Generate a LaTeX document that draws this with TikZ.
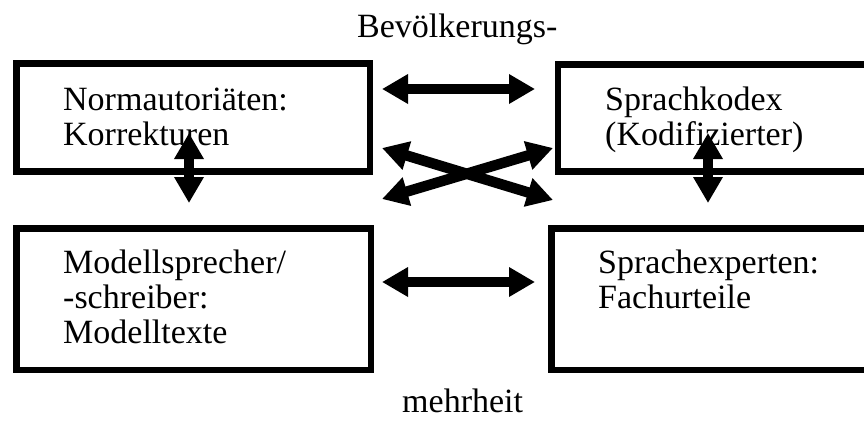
\documentclass[tikz,border=0pt]{standalone}
\usepackage{fontspec}
\setmainfont{Liberation Serif}
\usetikzlibrary{arrows.meta}
\tikzset{
  box/.style={draw=black, line width=6.5pt, fill=none},
  lbl/.style={inner sep=0pt, anchor=base west, font=\fontsize{34}{35}\selectfont},
  dbl/.style={line width=10.5pt, {Triangle[length=26pt,width=28pt]}-{Triangle[length=26pt,width=28pt]}}
}
\begin{document}
\begin{tikzpicture}[x=1pt,y=-1pt]
\useasboundingbox (0,0) rectangle (864,421);
\clip (0,0) rectangle (864,421);
\fill[white] (0,0) rectangle (864,421);
% boxes
\draw[box] (16.25,63.25) rectangle (370,171.5);
\draw[box] (558,64.5) rectangle (890,171.5);
\draw[box] (16.25,228.5) rectangle (371,370);
\draw[box] (551.5,228.5) rectangle (890,370);
% texts
\node[lbl] (top) at (357,37) {Bevölkerungs-};
\node[lbl] (bot) at (402,412) {mehrheit};
\node[lbl] (n1) at (63,110) {Normautoriäten:};
\node[lbl] (n2) at (63,145) {Korrekturen};
\node[lbl] (s1) at (605,110) {Sprachkodex};
\node[lbl] (s2) at (605,145) {(Kodifizierter)};
\node[lbl] (m1) at (63,273) {Modellsprecher/};
\node[lbl] (m2) at (63,308) {-schreiber:};
\node[lbl] (m3) at (63,343) {Modelltexte};
\node[lbl] (e1) at (598,273) {Sprachexperten:};
\node[lbl] (e2) at (598,308) {Fachurteile};
% arrow end points
\coordinate (hTL) at (382,89);
\coordinate (hTR) at (535,89);
\coordinate (hBL) at (382,282);
\coordinate (hBR) at (535,282);
\coordinate (xUL) at (382,148);
\coordinate (xLR) at (553,200);
\coordinate (xLL) at (382,199);
\coordinate (xUR) at (553,148);
\coordinate (vLT) at (189,133);
\coordinate (vLB) at (189,203);
\coordinate (vRT) at (708,133);
\coordinate (vRB) at (708,203);
% arrows
\draw[dbl] (hTL) -- (hTR);
\draw[dbl] (hBL) -- (hBR);
\draw[dbl] (xUL) -- (xLR);
\draw[dbl] (xLL) -- (xUR);
\draw[dbl] (vLT) -- (vLB);
\draw[dbl] (vRT) -- (vRB);
\end{tikzpicture}
\end{document}
